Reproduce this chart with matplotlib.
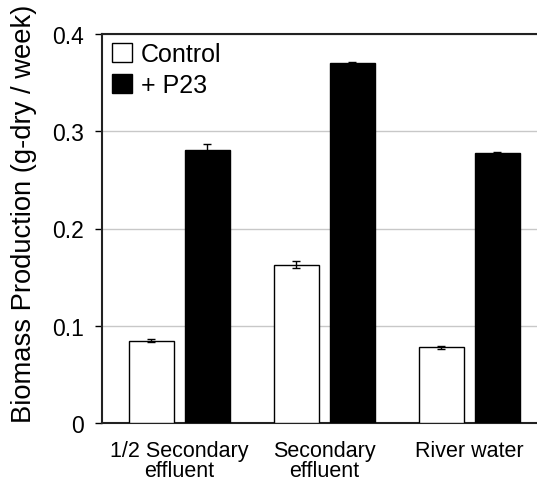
import matplotlib
matplotlib.use("Agg")
import matplotlib.pyplot as plt
import numpy as np

plt.rcParams['font.family'] = ['Liberation Sans', 'DejaVu Sans']

categories = ["1/2 Secondary\neffluent", "Secondary\neffluent", "River water"]
control = [0.0846, 0.1628, 0.0778]
control_err = [0.0018, 0.0035, 0.0018]
p23 = [0.2812, 0.3697, 0.2772]
p23_err = [0.0055, 0.0012, 0.0015]
series_names = ["Control", "+ P23"]
yticks = [0, 0.1, 0.2, 0.3, 0.4]
ytick_labels = ["0", "0.1", "0.2", "0.3", "0.4"]

W, H = 537, 485
RIGHT = 560
fig = plt.figure(figsize=(W / 100, H / 100), dpi=100)
ax = fig.add_axes([102 / W, (H - 424) / H, (RIGHT - 102) / W, 389 / H])

x = np.arange(len(categories))
bw = 0.31
off = 0.193
ekw = dict(ecolor='black', elinewidth=1, capsize=3, capthick=1)
ax.bar(x - off, control, bw, color='white', edgecolor='black', linewidth=1,
       yerr=control_err, error_kw=ekw, label=series_names[0], zorder=3)
ax.bar(x + off, p23, bw, color='black', edgecolor='black', linewidth=1,
       yerr=p23_err, error_kw=ekw, label=series_names[1], zorder=3)

ax.set_xlim(-0.534, (RIGHT - 179.5) / 145)
ax.set_ylim(0, 0.4)
ax.set_yticks(yticks)
ax.set_yticklabels(ytick_labels, fontsize=16.5)
ax.set_xticks(x)
ax.set_xticklabels(categories, fontsize=15.5, linespacing=0.95)
ax.tick_params(axis='x', length=0, pad=12)
ax.tick_params(axis='y', length=5, width=1, direction='out', pad=8)
ax.yaxis.grid(True, color='#c8c8c8', linewidth=1, zorder=0)
ax.set_axisbelow(True)

ax.spines['right'].set_visible(False)
for s in ['left', 'bottom', 'top']:
    ax.spines[s].set_linewidth(1.5)
    ax.spines[s].set_color('#222222')

leg = ax.legend(loc='upper left', bbox_to_anchor=(0.022, 0.98), frameon=False,
                fontsize=18, handlelength=0.8, handleheight=0.8,
                handletextpad=0.35, labelspacing=0.3, borderaxespad=0, borderpad=0)

fig.text(24 / W, 1 - 214 / H, "Biomass Production (g-dry / week)", rotation=90,
         fontsize=19.7, ha='center', va='center')

fig.savefig("out.png", dpi=100)
